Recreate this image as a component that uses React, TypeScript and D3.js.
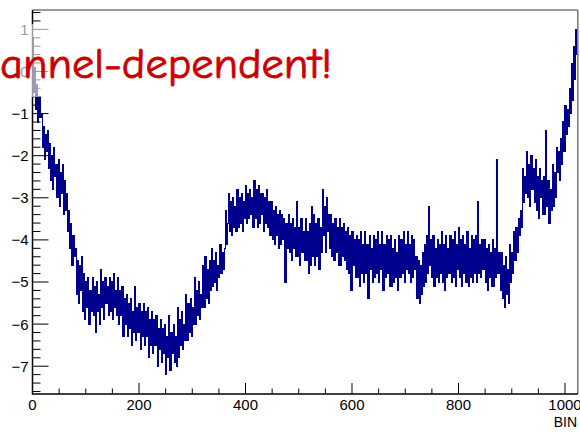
import React, { useEffect, useRef } from "react";
import * as d3 from "d3";

// histogram content, 2 channels per entry (1024 channels total)
const binWidth = 2;
const binValues = [
  0.8, -0.5, 0.1, -0.9, -0.3, -1.2, -0.6, -1.1, -1.0, -1.8, -1.3, -2.1, -1.5, -1.9, -1.4, -2.3,
  -1.7, -2.6, -2.0, -2.8, -1.8, -2.5, -2.2, -3.0, -2.1, -3.2, -2.4, -2.9, -2.2, -3.4, -2.6, -3.3,
  -2.9, -3.8, -3.3, -4.2, -3.6, -4.6, -3.9, -4.4, -4.2, -5.3, -4.5, -5.5, -4.6, -5.2, -4.4, -5.7,
  -4.8, -5.9, -5.0, -5.6, -4.9, -6.0, -5.2, -5.7, -4.9, -5.8, -5.1, -6.2, -5.0, -5.7, -5.3, -6.0,
  -4.7, -5.6, -5.0, -5.9, -4.9, -5.5, -5.1, -5.8, -4.9, -5.7, -5.0, -5.9, -4.8, -5.6, -5.2, -5.8,
  -4.9, -6.0, -5.2, -5.8, -5.1, -6.3, -5.4, -6.0, -5.3, -6.3, -5.5, -6.1, -5.4, -6.5, -5.7, -6.2,
  -5.1, -6.4, -5.6, -6.2, -5.5, -6.6, -5.7, -6.3, -5.5, -6.5, -5.7, -6.3, -5.6, -6.8, -5.9, -6.5,
  -5.7, -6.7, -5.9, -6.5, -5.8, -7.0, -6.1, -6.6, -5.9, -6.9, -6.1, -6.7, -6.0, -7.2, -6.3, -6.8,
  -5.8, -7.1, -6.2, -6.7, -6.0, -6.9, -6.3, -7.0, -5.6, -6.8, -5.9, -6.5, -5.7, -6.6, -6.0, -6.4,
  -5.3, -6.4, -5.5, -6.2, -5.4, -6.3, -5.6, -6.0, -4.9, -6.0, -5.2, -5.8, -5.0, -5.9, -5.3, -5.6,
  -4.6, -5.6, -4.4, -5.4, -4.7, -5.5, -4.5, -5.2, -4.2, -5.1, -4.5, -5.0, -4.3, -5.2, -4.6, -4.9,
  -4.1, -4.8, -4.3, -4.7, -4.2, -3.3, -4.1, -3.6, -2.9, -3.8, -3.1, -3.9, -3.0, -3.7, -3.2, -3.8,
  -2.8, -3.7, -3.0, -3.6, -2.9, -3.8, -3.1, -3.5, -2.7, -3.6, -2.9, -3.5, -2.8, -3.4, -3.0, -3.7,
  -2.6, -3.5, -2.8, -3.7, -2.7, -3.6, -2.9, -3.4, -2.9, -3.8, -3.0, -3.6, -2.8, -3.7, -3.1, -3.9,
  -3.1, -4.0, -3.3, -4.1, -3.2, -3.9, -3.4, -4.2, -3.3, -4.1, -3.4, -4.0, -3.5, -5.0, -3.6, -4.2,
  -3.4, -4.3, -3.6, -4.5, -3.5, -4.2, -3.7, -4.4, -3.1, -4.4, -3.7, -4.6, -3.5, -4.3, -3.8, -4.5,
  -3.5, -4.5, -3.8, -4.8, -3.6, -4.6, -3.2, -4.4, -3.4, -4.6, -3.6, -4.4, -3.5, -4.7, -3.7, -4.3,
  -2.8, -3.9, -3.2, -4.3, -3.0, -3.8, -3.4, -4.2, -3.4, -4.4, -3.6, -4.5, -3.5, -4.3, -3.7, -4.6,
  -3.5, -4.6, -3.7, -4.4, -3.6, -4.5, -3.8, -4.7, -3.7, -4.8, -3.9, -5.2, -3.8, -4.6, -4.0, -4.9,
  -3.9, -4.9, -4.0, -5.1, -3.8, -4.8, -4.1, -5.0, -3.8, -4.8, -4.1, -5.4, -3.9, -4.7, -4.2, -5.0,
  -3.9, -4.9, -4.0, -4.8, -3.8, -5.0, -4.1, -4.7, -3.8, -5.2, -4.1, -4.9, -3.9, -4.8, -4.0, -5.1,
  -3.9, -5.1, -4.2, -5.0, -4.0, -4.9, -4.3, -5.2, -3.9, -4.9, -4.0, -4.8, -3.8, -5.0, -4.1, -4.7,
  -3.8, -4.8, -4.1, -5.0, -3.9, -4.9, -4.0, -4.7, -4.4, -5.4, -4.5, -5.5, -4.6, -5.3, -4.3, -5.1,
  -4.1, -5.0, -3.9, -4.8, -3.2, -4.6, -4.0, -4.9, -3.9, -5.1, -4.2, -4.9, -4.0, -5.0, -4.1, -4.8,
  -3.8, -5.0, -4.1, -5.2, -3.9, -4.9, -4.2, -4.8, -3.9, -5.0, -4.0, -4.9, -3.8, -5.1, -4.1, -4.7,
  -3.7, -4.9, -4.0, -5.1, -3.9, -4.8, -4.1, -5.0, -3.8, -5.1, -4.2, -4.9, -3.9, -5.0, -4.0, -4.8,
  -3.9, -5.0, -3.1, -4.8, -4.1, -4.9, -4.0, -4.7, -4.0, -5.0, -4.2, -5.2, -4.1, -4.9, -4.3, -5.1,
  -4.0, -5.1, -4.2, -4.9, -2.1, -4.8, -4.3, -5.2, -4.3, -5.4, -4.6, -5.6, -4.4, -5.3, -4.7, -5.5,
  -4.1, -5.0, -4.3, -4.8, -3.8, -4.5, -3.7, -4.3, -3.5, -3.9, -3.3, -3.7, -2.3, -3.1, -2.5, -2.9,
  -1.9, -3.0, -2.2, -3.2, -2.0, -2.8, -2.3, -3.1, -2.1, -3.3, -2.5, -3.5, -2.3, -3.0, -2.6, -3.4,
  -2.5, -3.4, -1.4, -3.2, -2.6, -3.6, -2.8, -3.3, -2.2, -3.2, -2.4, -3.0, -1.8, -2.4, -1.9, -2.6,
  -1.6, -2.2, -1.2, -1.9, -0.8, -1.5, -0.9, -1.3, -0.4, -1.0, 0.2, -0.7, 0.6, -0.2, 1.0, 0.4,
];

const xTickLabels = [0, 200, 400, 600, 800, 1000];
const yTickLabels = [-7, -6, -5, -4, -3, -2, -1, 0, 1];

const W = 580;
const H = 436;

export default function App() {
  const ref = useRef<SVGSVGElement>(null);

  useEffect(() => {
    const svg = d3.select(ref.current);
    svg.selectAll("*").remove();

    const x = d3.scaleLinear().domain([0, 1024]).range([32.5, 577.8]);
    const y = d3.scaleLinear().domain([-7.66, 1.46]).range([394, 10]);

    // step histogram, vertical jumps at bin edges
    const pts: [number, number][] = binValues.map((v, i) => [i * binWidth, v]);
    pts.push([binValues.length * binWidth, binValues[binValues.length - 1]]);
    const line = d3
      .line<[number, number]>()
      .x((d) => x(d[0]))
      .y((d) => y(d[1]))
      .curve(d3.curveStepAfter);

    svg
      .append("path")
      .attr("d", line(pts))
      .attr("fill", "none")
      .attr("stroke", "#00008f")
      .attr("stroke-width", 1.1)
      .attr("shape-rendering", "crispEdges");

    // frame top and right
    svg.append("line").attr("x1", 32.5).attr("x2", 577.8).attr("y1", 10).attr("y2", 10)
      .attr("stroke", "#777").attr("stroke-width", 1.5);
    svg.append("line").attr("x1", 577.8).attr("x2", 577.8).attr("y1", 10).attr("y2", 394)
      .attr("stroke", "#777").attr("stroke-width", 1.5);

    // y axis (ticks inside)
    const yMinor = d3.range(-38, 8).map((k) => k / 5);
    svg.append("g").selectAll("line").data(yMinor).join("line")
      .attr("x1", 32.5)
      .attr("x2", (d) => (Math.abs(d - Math.round(d)) < 1e-6 ? 48.5 : 40.5))
      .attr("y1", (d) => y(d)).attr("y2", (d) => y(d))
      .attr("stroke", "#000").attr("stroke-width", 1);
    svg.append("g").selectAll("text").data(yTickLabels).join("text")
      .attr("x", 28.5).attr("y", (d) => y(d))
      .attr("dy", "0.36em")
      .attr("text-anchor", "end")
      .attr("font-family", "Liberation Sans, Arial, sans-serif")
      .attr("font-size", 15)
      .text((d) => (d < 0 ? "\u2212" + Math.abs(d) : String(d)));

    // x axis (ticks inside)
    const xMinor = d3.range(0, 1021, 50);
    svg.append("g").selectAll("line").data(xMinor).join("line")
      .attr("x1", (d) => x(d)).attr("x2", (d) => x(d))
      .attr("y1", 394)
      .attr("y2", (d) => (d % 200 === 0 ? 383 : 388.5))
      .attr("stroke", "#000").attr("stroke-width", 1);
    svg.append("g").selectAll("text").data(xTickLabels).join("text")
      .attr("x", (d) => x(d)).attr("y", 410)
      .attr("text-anchor", "middle")
      .attr("font-family", "Liberation Sans, Arial, sans-serif")
      .attr("font-size", 15)
      .text((d) => String(d));

    svg.append("line").attr("x1", 32.5).attr("x2", 32.5).attr("y1", 10).attr("y2", 394.5)
      .attr("stroke", "#000").attr("stroke-width", 1.5);
    svg.append("line").attr("x1", 32).attr("x2", 577.8).attr("y1", 394).attr("y2", 394)
      .attr("stroke", "#000").attr("stroke-width", 1.5);

    svg.append("text")
      .attr("x", 577).attr("y", 427)
      .attr("text-anchor", "end")
      .attr("font-family", "Liberation Sans, Arial, sans-serif")
      .attr("font-size", 14)
      .text("BIN");

    // translucent label box from the slide
    svg.append("rect")
      .attr("x", 0).attr("y", 24).attr("width", 345).attr("height", 73)
      .attr("fill", "#fff").attr("opacity", 0.6);

    svg.append("text")
      .attr("x", 0).attr("y", 78)
      .attr("textLength", 332)
      .attr("lengthAdjust", "spacingAndGlyphs")
      .attr("font-family", "Comic Sans MS, Comic Neue, Lato, sans-serif")
      .attr("font-size", 42)
      .attr("fill", "#cc0000")
      .attr("stroke", "#cc0000")
      .attr("stroke-width", 0.8)
      .text("annel-dependent!");
  }, []);

  return (
    <svg
      ref={ref}
      width={W}
      height={H}
      style={{ position: "absolute", left: 0, top: 0, background: "#fff" }}
    />
  );
}
